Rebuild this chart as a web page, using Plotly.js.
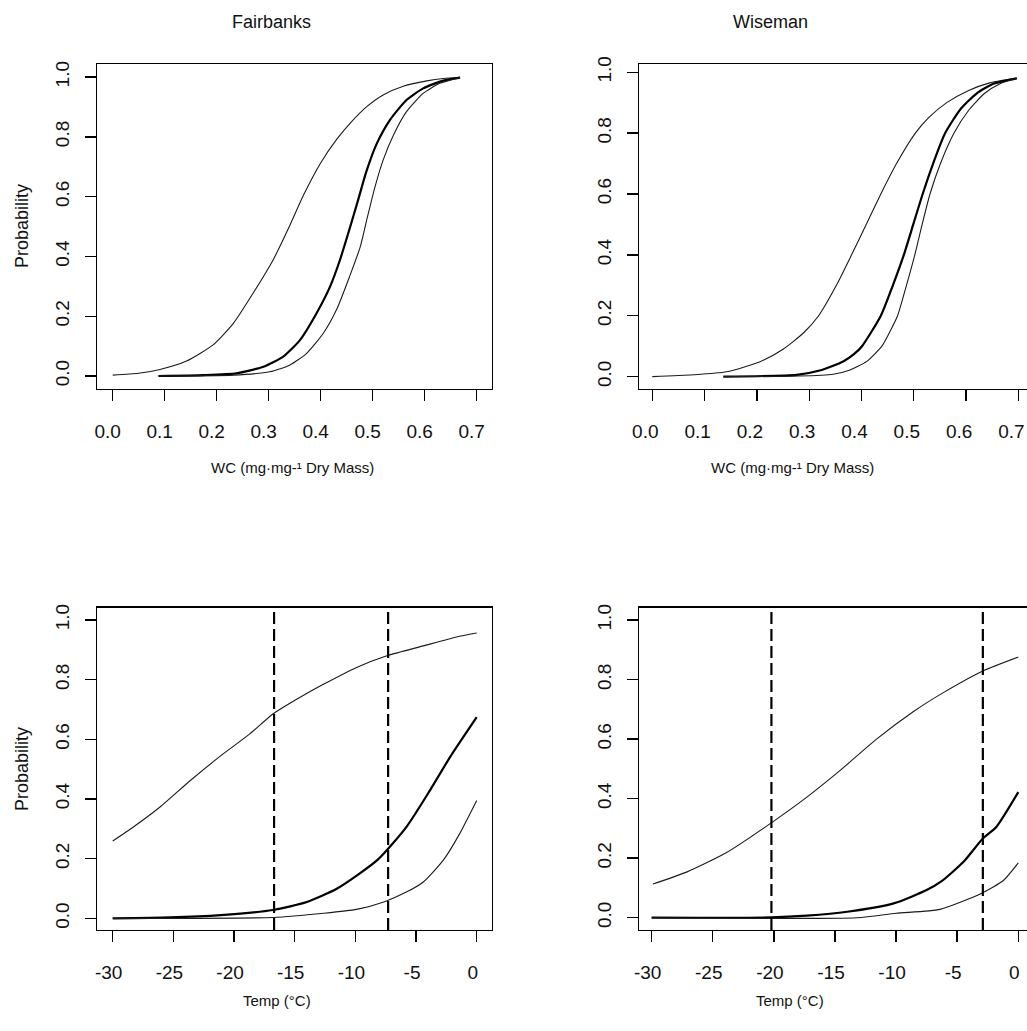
<!DOCTYPE html>
<html>
<head>
<meta charset="utf-8">
<script src="https://cdn.plot.ly/plotly-3.0.1.min.js"></script>
<style>html,body{margin:0;padding:0;background:#fff;}#chart{width:1027px;height:1031px;}</style>
</head>
<body>
<div id="chart"></div>
<script>
// ---------- data ----------
const panelTitles = ["Fairbanks", "Wiseman"];
const wcTitle = "WC (mg\u00B7mg-\u00B9 Dry Mass)";
const tempTitle = "Temp (\u00B0C)";
const yTitle = "Probability";

const wcTicks = [0, 0.1, 0.2, 0.3, 0.4, 0.5, 0.6, 0.7];
const probTicks = [0, 0.2, 0.4, 0.6, 0.8, 1.0];
const tempTicks = [-30, -25, -20, -15, -10, -5, 0];

// Fairbanks, water content
const fairWcAx = [0.0, 0.05, 0.091, 0.142, 0.193, 0.232, 0.27, 0.309, 0.341, 0.367, 0.399, 0.431, 0.459, 0.488, 0.52, 0.56, 0.604, 0.636, 0.668];
const fairWcAy = [0.003, 0.009, 0.022, 0.05, 0.104, 0.176, 0.277, 0.39, 0.505, 0.605, 0.71, 0.792, 0.85, 0.9, 0.94, 0.97, 0.987, 0.995, 0.999];
const fairWcBx = [0.088, 0.174, 0.238, 0.29, 0.328, 0.36, 0.392, 0.418, 0.437, 0.456, 0.472, 0.488, 0.508, 0.533, 0.565, 0.597, 0.636, 0.668];
const fairWcBy = [0.0, 0.003, 0.009, 0.031, 0.065, 0.12, 0.21, 0.299, 0.388, 0.495, 0.589, 0.685, 0.778, 0.856, 0.923, 0.962, 0.988, 0.998];
const fairWcCx = [0.088, 0.232, 0.302, 0.341, 0.373, 0.405, 0.431, 0.456, 0.476, 0.49, 0.504, 0.52, 0.54, 0.565, 0.597, 0.629, 0.668];
const fairWcCy = [0.0, 0.003, 0.014, 0.037, 0.076, 0.143, 0.224, 0.335, 0.432, 0.533, 0.63, 0.722, 0.806, 0.884, 0.945, 0.979, 0.998];

// Wiseman, water content
const wiseWcAx = [0.0, 0.078, 0.142, 0.206, 0.25, 0.29, 0.318, 0.352, 0.381, 0.409, 0.437, 0.467, 0.503, 0.528, 0.563, 0.605, 0.645, 0.697];
const wiseWcAy = [0.0, 0.006, 0.016, 0.049, 0.09, 0.145, 0.2, 0.3, 0.4, 0.5, 0.6, 0.7, 0.8, 0.85, 0.9, 0.94, 0.965, 0.981];
const wiseWcBx = [0.136, 0.276, 0.32, 0.365, 0.385, 0.401, 0.437, 0.46, 0.481, 0.499, 0.517, 0.537, 0.56, 0.59, 0.62, 0.652, 0.697];
const wiseWcBy = [0.0, 0.006, 0.02, 0.05, 0.073, 0.1, 0.2, 0.3, 0.4, 0.5, 0.6, 0.7, 0.8, 0.88, 0.93, 0.962, 0.98];
const wiseWcCx = [0.136, 0.28, 0.346, 0.378, 0.41, 0.439, 0.455, 0.469, 0.486, 0.502, 0.516, 0.531, 0.551, 0.577, 0.605, 0.635, 0.665, 0.697];
const wiseWcCy = [0.0, 0.002, 0.008, 0.022, 0.05, 0.1, 0.15, 0.2, 0.3, 0.4, 0.5, 0.6, 0.7, 0.8, 0.875, 0.93, 0.962, 0.98];

// Fairbanks, temperature
const fairTAx = [-30, -28.3, -26.1, -23.6, -20.9, -18.7, -16.8, -14.8, -12.6, -9.9, -7.4, -4.4, -1.65, 0];
const fairTAy = [0.259, 0.306, 0.373, 0.462, 0.551, 0.618, 0.685, 0.735, 0.785, 0.841, 0.88, 0.913, 0.943, 0.956];
const fairTBx = [-30, -25.3, -21.1, -16.8, -14, -11.5, -8.2, -5.8, -3.85, -2.2, 0];
const fairTBy = [0.0, 0.003, 0.011, 0.028, 0.055, 0.1, 0.195, 0.306, 0.429, 0.54, 0.674];
const fairTCx = [-30, -16.8, -12.6, -9.9, -7.6, -5.8, -4.4, -2.75, -1.4, 0];
const fairTCy = [0.0, 0.003, 0.017, 0.03, 0.056, 0.088, 0.122, 0.195, 0.284, 0.395];
const fairCut = [-16.7, -7.3];

// Wiseman, temperature
const wiseTAx = [-29.9, -27.1, -23.9, -20.3, -17.3, -14.6, -11.6, -8.6, -6.1, -2.9, 0];
const wiseTAy = [0.113, 0.154, 0.218, 0.316, 0.405, 0.494, 0.6, 0.692, 0.757, 0.829, 0.876];
const wiseTBx = [-30, -20.2, -17.3, -14, -10.2, -7.5, -6.3, -4.5, -2.9, -1.8, 0];
const wiseTBy = [0.0, 0.001, 0.007, 0.02, 0.048, 0.093, 0.122, 0.187, 0.266, 0.305, 0.422];
const wiseTCx = [-30, -13.2, -10, -6.4, -3, -1.2, 0];
const wiseTCy = [0.0, 0.0, 0.015, 0.028, 0.082, 0.126, 0.184];
const wiseCut = [-20.2, -2.9];

// ---------- figure ----------
const W = 1027, H = 1031;
const FONT = "Liberation Sans, Arial, Helvetica, sans-serif";
const px = v => v / W;
const py = v => 1 - v / H;

function curve(x, y, xa, ya, thick) {
  return {
    type: "scatter", mode: "lines", x: x, y: y, xaxis: xa, yaxis: ya,
    line: {color: thick ? "#000" : "#1a1a1a", width: thick ? 2.2 : 1.1, shape: "spline", smoothing: 0.6},
    hoverinfo: "skip", showlegend: false
  };
}

const traces = [
  curve(fairWcAx, fairWcAy, "x", "y", false),
  curve(fairWcBx, fairWcBy, "x", "y", true),
  curve(fairWcCx, fairWcCy, "x", "y", false),
  curve(wiseWcAx, wiseWcAy, "x2", "y2", false),
  curve(wiseWcBx, wiseWcBy, "x2", "y2", true),
  curve(wiseWcCx, wiseWcCy, "x2", "y2", false),
  curve(fairTAx, fairTAy, "x3", "y3", false),
  curve(fairTBx, fairTBy, "x3", "y3", true),
  curve(fairTCx, fairTCy, "x3", "y3", false),
  curve(wiseTAx, wiseTAy, "x4", "y4", false),
  curve(wiseTBx, wiseTBy, "x4", "y4", true),
  curve(wiseTCx, wiseTCy, "x4", "y4", false)
];

function baseAxis(extra) {
  return Object.assign({
    showline: true, mirror: true, linecolor: "#000", linewidth: 1.4,
    ticks: "outside", ticklen: 11, tickwidth: 1.4, tickcolor: "#000",
    showgrid: false, zeroline: false, fixedrange: true, ticklabeloverflow: "allow",
    tickfont: {family: FONT, size: 19, color: "#111"}
  }, extra);
}
function xWc(domain, range, anchor, shift) {
  return baseAxis({domain: domain, range: range, anchor: anchor, tickmode: "array", tickvals: wcTicks,
    ticktext: wcTicks.map(v => v.toFixed(1)), ticklabelstandoff: 14, ticklabelshift: shift});
}
function xTemp(domain, range, anchor, shift) {
  return baseAxis({domain: domain, range: range, anchor: anchor, tickmode: "array", tickvals: tempTicks,
    ticktext: tempTicks.map(v => String(v)), ticklabelstandoff: 14, ticklabelshift: shift});
}
function yProb(domain, range, anchor) {
  return baseAxis({domain: domain, range: range, anchor: anchor, tickmode: "array", tickvals: probTicks,
    ticktext: probTicks.map(v => v.toFixed(1)), tickangle: -90, ticklabelstandoff: 8});
}

const topDom = [py(388.5), py(64)];
const botDom = [py(930), py(607.7)];
const leftDom = [px(97.3), px(491.7)];
const rightDom = [px(639.3), 1];

const shapes = [];
fairCut.forEach(v => shapes.push({type: "line", xref: "x3", yref: "y3 domain", x0: v, x1: v, y0: 0, y1: 1,
  line: {color: "#000", width: 2.2, dash: "12px,5px"}}));
wiseCut.forEach(v => shapes.push({type: "line", xref: "x4", yref: "y4 domain", x0: v, x1: v, y0: 0, y1: 1,
  line: {color: "#000", width: 2.2, dash: "12px,5px"}}));

function ann(text, x, y, size, angle) {
  return {text: text, xref: "paper", yref: "paper", x: x, y: y, xanchor: "center", yanchor: "middle",
    showarrow: false, textangle: angle || 0, font: {family: FONT, size: size, color: "#111"}};
}
const annotations = [
  ann(panelTitles[0], px(271), py(22), 18),
  ann(panelTitles[1], px(770), py(22), 18),
  ann(wcTitle, px(292), py(468), 15),
  ann(wcTitle, px(792), py(468), 15),
  ann(tempTitle, px(277), py(1000), 15),
  ann(tempTitle, px(790), py(1000), 15),
  ann(yTitle, px(22), py(226), 18, -90),
  ann(yTitle, px(22), py(769), 18, -90)
];

const layout = {
  width: W, height: H,
  margin: {l: 0, r: 0, t: 0, b: 0, pad: 0},
  paper_bgcolor: "#fff", plot_bgcolor: "#fff",
  showlegend: false,
  font: {family: FONT, color: "#111"},
  xaxis: xWc(leftDom, [-0.0296, 0.7288], "y", -5),
  yaxis: yProb(topDom, [-0.0418, 1.0435], "x"),
  xaxis2: xWc(rightDom, [-0.0249, 0.7165], "y2", -7),
  yaxis2: yProb(topDom, [-0.039, 1.027], "x2"),
  xaxis3: xTemp(leftDom, [-31.27, 1.237], "y3", -4),
  yaxis3: yProb(botDom, [-0.039, 1.041], "x3"),
  xaxis4: xTemp(rightDom, [-31.01, 0.712], "y4", -4),
  yaxis4: yProb(botDom, [-0.0413, 1.0416], "x4"),
  shapes: shapes,
  annotations: annotations
};

Plotly.newPlot("chart", traces, layout, {staticPlot: true, displayModeBar: false});
</script>
</body>
</html>
